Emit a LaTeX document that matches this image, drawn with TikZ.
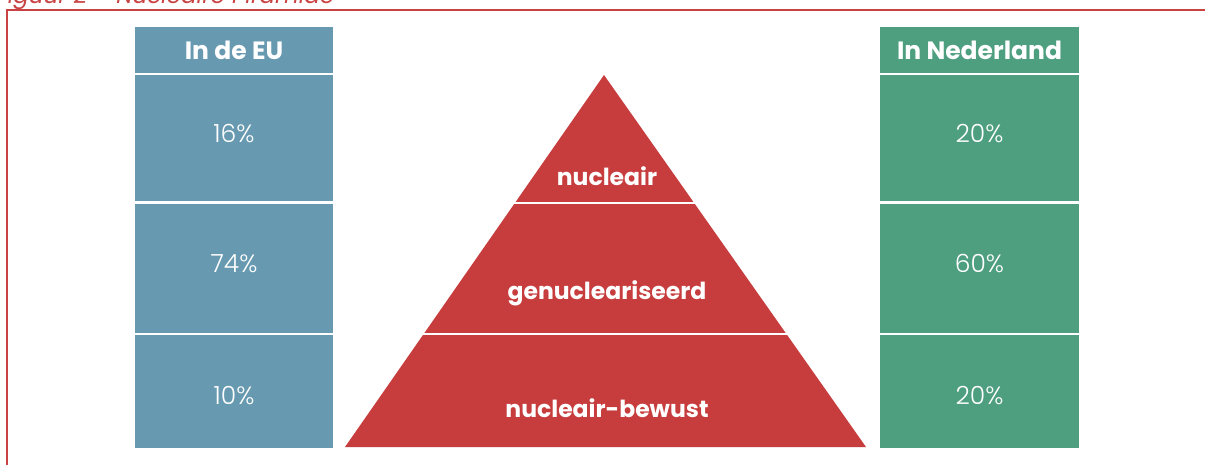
\documentclass[tikz,border=0pt]{standalone}
\usepackage{fontspec}
\setmainfont{Poppins}
\newfontfamily\lightfont{Poppins Light}
\usetikzlibrary{positioning}
\definecolor{eublue}{HTML}{6799B0}
\definecolor{nlgreen}{HTML}{4E9E80}
\definecolor{pyrred}{HTML}{C73C3C}
\definecolor{framered}{HTML}{C94343}
\newcommand{\pctup}[1]{\raisebox{5pt}[\height][\depth]{#1}}
\newcommand{\pctdown}[1]{\raisebox{-4pt}[\height][\depth]{#1}}
\begin{document}
\begin{tikzpicture}[x=1pt,y=-1pt,node distance=2pt,
    head/.style={rectangle,minimum height=46pt,inner sep=0pt,text=white,
      font=\fontsize{25}{29}\selectfont\bfseries},
    cell/.style={rectangle,inner sep=0pt,text=white,
      font=\lightfont\fontsize{25}{30}\selectfont},
    eu/.style={fill=eublue,minimum width=198pt},
    nl/.style={fill=nlgreen,minimum width=199pt},
    layer/.style={text=white,inner sep=0pt,font=\fontsize{23.5}{28}\selectfont\bfseries}]
  \fill[white] (0,0) rectangle (1205,464);
  \useasboundingbox (0,0) rectangle (1205,464);

  % frame and caption
  \node[anchor=base west,text=framered,inner sep=0pt,
    font=\itshape\fontsize{23}{27}\selectfont] (caption) at (-4,3) {Figuur 2 -- Nucleaire Piramide};
  \draw[framered,line width=2pt] (1215,10) -- (7,10) -- (7,480);

  % left column
  \node[head,eu] (euhead) at (234,50) {In de EU};
  \node[cell,eu,minimum height=126pt,below=of euhead] (eu1) {\pctup{16\%}};
  \node[cell,eu,minimum height=129pt,below=of eu1] (eu2) {\pctup{74\%}};
  \node[cell,eu,minimum height=113pt,below=of eu2] (eu3) {\pctdown{10\%}};

  % right column
  \node[head,nl] (nlhead) at (979.5,50) {In Nederland};
  \node[cell,nl,minimum height=126pt,below=of nlhead] (nl1) {\pctup{20\%}};
  \node[cell,nl,minimum height=129pt,below=of nl1] (nl2) {\pctup{60\%}};
  \node[cell,nl,minimum height=113pt,below=of nl2] (nl3) {\pctdown{20\%}};

  % pyramid
  \fill[pyrred] (604,75) -- (866,447) -- (345,447) -- cycle;
  \draw[white,line width=2pt] (505,203) -- (705,203);
  \draw[white,line width=2pt] (410,334) -- (800,334);
  \node[layer] (top) at (607,176) {nucleair};
  \node[layer] (mid) at (607,293) {genucleariseerd};
  \node[layer] (base) at (607,408) {nucleair-bewust};
\end{tikzpicture}
\end{document}
